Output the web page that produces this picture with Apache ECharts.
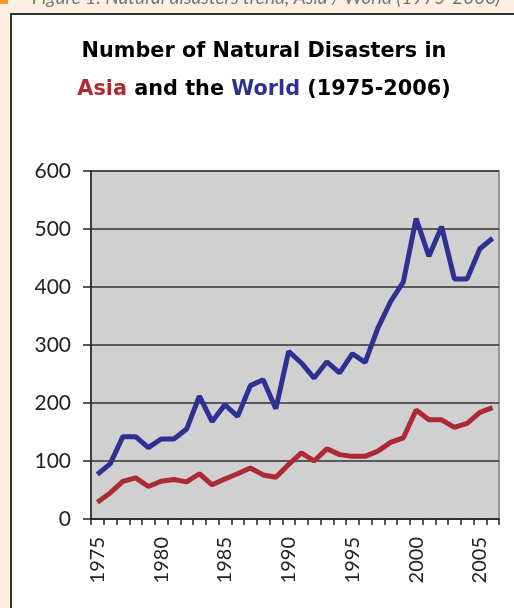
<!DOCTYPE html>
<html>
<head>
<meta charset="utf-8">
<script src="https://cdn.jsdelivr.net/npm/echarts@6/dist/echarts.min.js"></script>
<style>
html,body{margin:0;padding:0;background:#FDF0E1;}
#c{width:514px;height:608px;}
</style>
</head>
<body>
<div id="c"></div>
<script>
const years = [1975,1976,1977,1978,1979,1980,1981,1982,1983,1984,1985,1986,1987,1988,1989,1990,1991,1992,1993,1994,1995,1996,1997,1998,1999,2000,2001,2002,2003,2004,2005,2006];
const world = [77,95,142,142,123,138,138,155,212,168,197,177,230,240,190,289,269,243,271,252,285,270,329,375,409,518,453,504,414,414,466,484];
const asia = [29,45,65,71,56,65,68,64,78,59,69,78,88,76,72,94,114,100,121,111,108,108,117,132,140,188,171,171,158,165,184,192];
const yTicks = [0,100,200,300,400,500,600];

const chart = echarts.init(document.getElementById('c'), null, {renderer:'canvas'});
const FONT = 'Lato, "DejaVu Sans", sans-serif';
const TFONT = 'bold 20.8px "DejaVu Sans", sans-serif';
chart.setOption({
  backgroundColor: '#FDF0E1',
  animation: false,
  graphic: [
    {type:'rect', z:-10, shape:{x:0,y:0,width:8,height:4}, style:{fill:'#F39A2B'}},
    {type:'text', z:-10, style:{x:32, y:-2, text:'Figure 1: Natural disasters trend, Asia / World (1975-2006)', font:'italic 19px ' + FONT, fill:'#777', verticalAlign:'middle'}},
    {type:'rect', z:-10, shape:{x:11,y:14,width:530,height:620}, style:{fill:'#ffffff', stroke:'#333', lineWidth:2}},
    {type:'text', style:{x:264, y:52, text:'Number of Natural Disasters in', font:TFONT, fill:'#000', align:'center', verticalAlign:'middle'}},
    {type:'text', style:{x:264, y:90, text:'{a|Asia} and the {w|World} (1975-2006)', align:'center', verticalAlign:'middle',
      font:TFONT, fill:'#000',
      rich:{a:{fill:'#AE2A33', font:TFONT}, w:{fill:'#2E3192', font:TFONT}}}}
  ],
  grid: {left:91, top:171, right:15, bottom:89, show:true, backgroundColor:'#D0D0D0', borderColor:'#999', borderWidth:2},
  xAxis: {
    type:'category', data: years.map(String), boundaryGap:true,
    axisLine:{show:true, lineStyle:{color:'#222', width:1.5}},
    axisTick:{show:true, interval:0, length:6, lineStyle:{color:'#222', width:1.5}},
    axisLabel:{interval:4, rotate:90, margin:18, fontSize:20, fontFamily:FONT, color:'#222'},
    splitLine:{show:false}
  },
  yAxis: {
    type:'value', min:yTicks[0], max:yTicks[yTicks.length-1], interval:100,
    axisLine:{show:true, lineStyle:{color:'#222', width:1.5}},
    axisTick:{show:true, length:8, lineStyle:{color:'#222', width:1.5}},
    axisLabel:{margin:20, fontSize:21, fontFamily:FONT, color:'#222'},
    splitLine:{show:true, lineStyle:{color:'#333', width:1.5}}
  },
  series: [
    {name:'Asia', type:'line', data:asia, showSymbol:false, symbol:'none', lineStyle:{color:'#AE2A33', width:5}, itemStyle:{color:'#AE2A33'}},
    {name:'World', type:'line', data:world, showSymbol:false, symbol:'none', lineStyle:{color:'#2E3192', width:5}, itemStyle:{color:'#2E3192'}}
  ]
});
</script>
</body>
</html>
